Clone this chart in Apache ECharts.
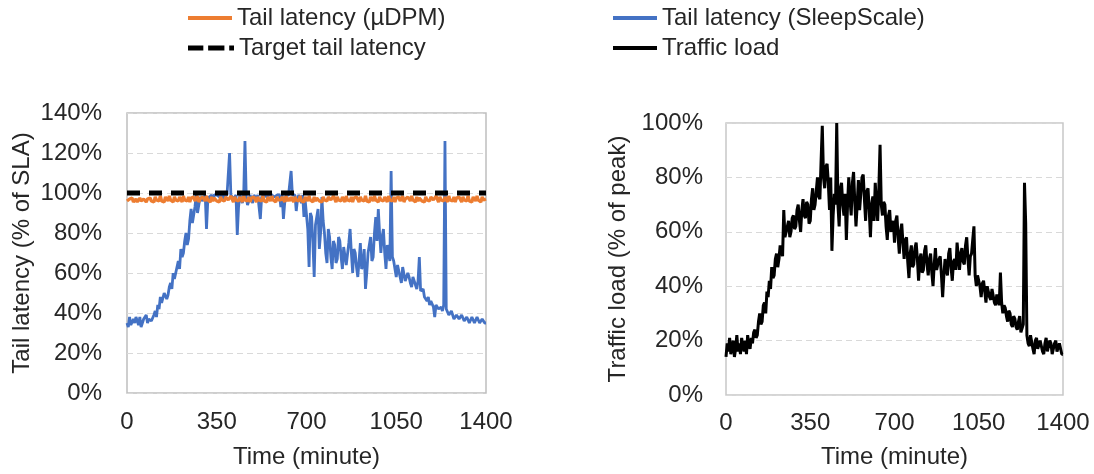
<!DOCTYPE html>
<html><head><meta charset="utf-8">
<script src="https://cdn.jsdelivr.net/npm/echarts@6/dist/echarts.min.js"></script>
<style>html,body{margin:0;padding:0;background:#fff}#c{width:1094px;height:474px}</style>
</head><body><div id="c"></div>
<script>
// Time axis: one sample every 5 minutes, 0..1400
const timeStep = 5;
const xTickInterval = 350;
const xMax = 1400;

// Tail latency (SleepScale), % of SLA  (rows of 100 minutes)
const sleepScale = [
  35,33,38,34,33,37,35,38,36,34,38,33,34,37,36,39,35,37,38,36,
  37,39,41,38,44,42,48,45,46,50,51,47,49,53,55,52,60,57,58,63,
  66,62,72,68,70,76,80,74,77,86,92,85,84,93,99,90,94,98,99,96,
  97,99,82,96,98,99,99,97,99,98,99,99,98,99,99,97,99,99,99,98,
  120,99,99,97,98,99,79,93,99,98,95,99,126,98,94,96,99,98,95,99,
  99,97,99,99,87,98,99,99,99,98,99,99,99,99,99,98,99,99,99,99,
  93,99,87,95,99,99,99,98,111,99,98,99,91,97,99,99,95,99,88,96,
  96,82,63,90,88,75,58,84,85,92,72,80,98,86,80,70,65,82,78,68,
  62,76,74,65,67,78,76,68,62,73,72,64,65,75,82,70,60,72,70,63,
  58,66,75,62,64,72,52,60,70,74,78,66,68,80,88,76,92,80,70,78,
  82,70,62,74,75,66,111,68,66,62,58,64,65,58,55,63,62,56,56,60,
  58,55,53,58,57,54,52,56,68,51,50,52,48,49,46,48,44,46,46,43,
  38,44,44,42,42,43,41,44,126,42,41,39,38,41,40,37,36,39,39,37,
  37,39,39,36,35,38,38,35,36,38,39,35,35,38,38,35,34,37,37,35,
  35
];

// Tail latency (µDPM), % of SLA
const microDPM = [
  96,95.5,97,96,97.5,95.5,96.5,97,95.5,96,97.5,96,95.5,97,96.5,95.5,97,96,97.5,96,
  97,95.5,98,96.5,97.5,96,98.5,96,97,95.5,98,97,96,98.5,96.5,97,95.5,98,96.5,97.5,
  96,98,97,95.5,98.5,96.5,97,96,98,95.5,97.5,96.5,98,96,97,98.5,95.5,97,96.5,98,
  97.5,96,98.5,96.5,97,95.5,98,96,97.5,98.5,96,97,95.5,98,96.5,97.5,96,98,97,96.5,
  96,98.5,97,95.5,98,96.5,97.5,96,98,97,95.5,98.5,96.5,97,96,98,95.5,97.5,96.5,98,
  97,95.5,98,96.5,97.5,96,98.5,96,97,95.5,98,97,96,98.5,96.5,97,95.5,98,96.5,97.5,
  96.5,98,97,95.5,98.5,96,97.5,96,98,97,95.5,98,96.5,97.5,96,98.5,96,97,95.5,98,
  97,96,98.5,96.5,97,95.5,98,96,97.5,98.5,96,97,95.5,98,96.5,97.5,96,98,97,96.5,
  96,98.5,97,95.5,98,96.5,97.5,96,98,97,95.5,98.5,96.5,97,96,98,95.5,97.5,96.5,98,
  97.5,95.5,98,96.5,97,96,98.5,96,97,95.5,98,97,96,98.5,96.5,97,95.5,98,96.5,97.5,
  96,98,97,95.5,98.5,96.5,97,96,98,95.5,97.5,96.5,98,96,97,98.5,95.5,97,96.5,98,
  97,96,98.5,96.5,97,95.5,98,96,97.5,98.5,96,97,95.5,98,96.5,97.5,96,98,97,96.5,
  96.5,98.5,97,95.5,98,96.5,97.5,96,98,97,95.5,98.5,96.5,97,96,98,95.5,97.5,96.5,98,
  97,95.5,98,96.5,97.5,96,98.5,96,97,95.5,98,97,96,98.5,96.5,97,95.5,98,96.5,97.5,
  97
];

// Target tail latency, % of SLA
const targetLatency = 100;

// Traffic load, % of peak  (rows of 100 minutes)
const trafficLoad = [
  14,19,16,21,15,18,20,14,17,22,16,19,15,21,18,16,20,15,22,18,
  17,21,19,23,24,21,22,27,30,26,27,33,34,30,38,36,42,39,47,43,
  44,50,52,47,50,55,55,51,68,58,58,62,64,58,60,65,66,61,62,68,
  70,64,60,68,72,66,65,71,70,63,64,72,76,68,70,75,80,73,72,86,
  99,80,76,84,85,78,68,80,53,66,74,70,100,70,62,76,78,70,66,74,
  57,70,80,72,66,78,82,71,62,70,79,68,68,80,81,72,64,75,76,68,
  58,70,73,64,78,70,64,76,92,70,66,71,70,62,57,66,68,60,60,64,
  56,64,66,58,52,60,63,56,50,57,58,49,43,52,55,47,48,54,56,50,
  42,50,52,45,46,53,55,48,44,50,52,45,40,48,54,46,46,50,51,44,
  36,44,50,46,44,52,54,47,42,49,50,46,56,51,46,52,54,49,48,55,
  58,50,44,51,52,57,62,44,40,44,44,40,36,41,42,38,34,40,40,36,
  35,39,39,34,33,37,37,33,45,34,30,33,32,29,27,31,30,26,25,29,
  28,25,24,27,29,23,23,26,78,63,22,19,18,22,22,17,15,20,21,17,
  17,20,20,16,15,19,21,16,16,20,19,15,15,19,20,16,16,19,19,15,
  15
];

const FONT = "'Liberation Sans', Arial, sans-serif";
const TXT = '#262626';
const toPairs = arr => arr.map((v, i) => [i * timeStep, v]);

const solidIcon = 'path://M0,0h44v4h-44z';
const dashIcon = 'path://M0,0h16v5h-16z M21,0h17v5h-17z M43,0h5v5h-5z';

const legendBase = {
  orient: 'horizontal', padding: 0, itemWidth: 44, itemHeight: 4,
  textStyle: { fontFamily: FONT, fontSize: 24, color: TXT, lineHeight: 26 },
  selectedMode: false
};

const xAxisBase = {
  type: 'value', min: 0, max: xMax, interval: xTickInterval,
  axisLine: { show: false }, axisTick: { show: false }, splitLine: { show: false },
  axisLabel: { fontFamily: FONT, fontSize: 24, color: TXT, margin: 17, formatter: v => String(v) },
  name: 'Time (minute)', nameLocation: 'middle',
  nameTextStyle: { fontFamily: FONT, fontSize: 24, color: TXT }
};
const yAxisBase = {
  type: 'value', min: 0,
  axisLine: { show: false }, axisTick: { show: false },
  splitLine: { show: true, lineStyle: { color: '#d9d9d9', type: [6, 4], width: 1 } },
  axisLabel: { fontFamily: FONT, fontSize: 24, color: TXT, formatter: '{value}%' },
  nameLocation: 'middle',
  nameTextStyle: { fontFamily: FONT, fontSize: 24, color: TXT }
};

const option = {
  animation: false,
  backgroundColor: '#fff',
  legend: [
    Object.assign({}, legendBase, { left: 188, top: 5, data: [{ name: 'Tail latency (µDPM)', icon: solidIcon }] }),
    Object.assign({}, legendBase, { left: 188, top: 35, itemWidth: 46, itemHeight: 5, data: [{ name: 'Target tail latency', icon: dashIcon }] }),
    Object.assign({}, legendBase, { left: 613, top: 5, data: [{ name: 'Tail latency (SleepScale)', icon: solidIcon }] }),
    Object.assign({}, legendBase, { left: 613, top: 35, data: [{ name: 'Traffic load', icon: solidIcon }] })
  ],
  grid: [
    { left: 127, right: 608, top: 113, bottom: 79, show: true, borderColor: '#bfbfbf', borderWidth: 1.5, containLabel: false },
    { left: 726, right: 31, top: 123, bottom: 77, show: true, borderColor: '#c8c8c8', borderWidth: 1.5, containLabel: false }
  ],
  xAxis: [
    Object.assign({}, xAxisBase, { gridIndex: 0, nameGap: 52 }),
    Object.assign({}, xAxisBase, { gridIndex: 1, nameGap: 50, axisLabel: Object.assign({}, xAxisBase.axisLabel, { margin: 16 }) })
  ],
  yAxis: [
    Object.assign({}, yAxisBase, { gridIndex: 0, max: 140, interval: 20, name: 'Tail latency (% of SLA)', nameGap: 93,
      axisLabel: Object.assign({}, yAxisBase.axisLabel, { margin: 25 }) }),
    Object.assign({}, yAxisBase, { gridIndex: 1, max: 100, interval: 20, name: 'Traffic load (% of peak)', nameGap: 96,
      axisLabel: Object.assign({}, yAxisBase.axisLabel, { margin: 23 }) })
  ],
  series: [
    { name: 'Tail latency (SleepScale)', type: 'line', xAxisIndex: 0, yAxisIndex: 0, symbol: 'none',
      data: toPairs(sleepScale), color: '#4472C4', lineStyle: { color: '#4472C4', width: 2.8 } },
    { name: 'Tail latency (µDPM)', type: 'line', xAxisIndex: 0, yAxisIndex: 0, symbol: 'none',
      data: toPairs(microDPM), color: '#ED7D31', lineStyle: { color: '#ED7D31', width: 3.2 } },
    { name: 'Target tail latency', type: 'line', xAxisIndex: 0, yAxisIndex: 0, symbol: 'none',
      data: [[0, targetLatency], [xMax, targetLatency]], color: '#000',
      lineStyle: { color: '#000', width: 5, type: [13, 9] } },
    { name: 'Traffic load', type: 'line', xAxisIndex: 1, yAxisIndex: 1, symbol: 'none',
      data: toPairs(trafficLoad), color: '#000', lineStyle: { color: '#000', width: 3 } }
  ]
};

const chart = echarts.init(document.getElementById('c'), null, { renderer: 'canvas' });
chart.setOption(option);
</script>
</body></html>
